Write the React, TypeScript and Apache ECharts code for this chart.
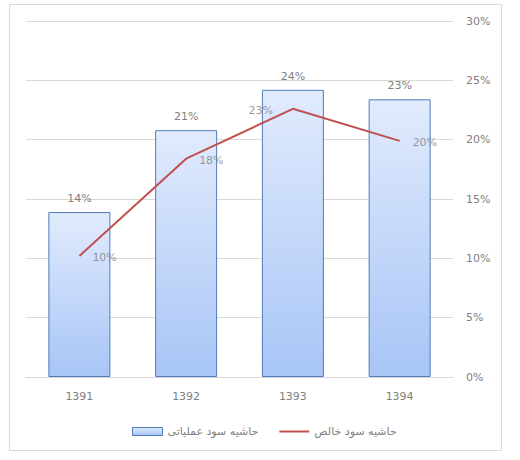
import { useEffect, useRef } from "react";
import * as echarts from "echarts";

const years = ["1391", "1392", "1393", "1394"];
const operatingMargin = [13.9, 20.8, 24.2, 23.4];
const netMargin = [10.2, 18.4, 22.6, 19.9];
const operatingLabels = ["14%", "21%", "24%", "23%"];
const netLabels = ["10%", "18%", "23%", "20%"];

const OPERATING_NAME = "حاشیه سود عملیاتی";
const NET_NAME = "حاشیه سود خالص";

// which side of the point each net-margin label sits on
const NET_LABEL_SIDE = ["right", "right", "left", "right"];

const FONT = "Tahoma, 'DejaVu Sans', sans-serif";
const TEXT_GRAY = "#808080";
const GRID_GRAY = "#d9d9d9";

export default function App() {
  const ref = useRef<HTMLDivElement>(null);

  useEffect(() => {
    document.body.style.margin = "0";
    if (!ref.current) return;
    const chart = echarts.init(ref.current, undefined, { renderer: "svg" });

    chart.setOption({
      animation: false,
      backgroundColor: "#ffffff",
      textStyle: { fontFamily: FONT },
      grid: { left: 26, right: 67, top: 21, bottom: 83, outerBoundsMode: "none" },
      graphic: [
        {
          type: "rect",
          shape: { x: 9.5, y: 4.5, width: 492, height: 446 },
          style: { fill: "none", stroke: GRID_GRAY, lineWidth: 1 },
          silent: true,
        },
      ],
      legend: {
        left: 127,
        top: 421,
        itemWidth: 30,
        itemHeight: 8,
        itemGap: 20,
        textStyle: { color: TEXT_GRAY, fontSize: 11, fontFamily: FONT },
        data: [
          {
            name: OPERATING_NAME,
            icon: "rect",
            itemStyle: { borderWidth: 1, borderColor: "#4f7cb8" },
          },
          { name: NET_NAME, itemStyle: { opacity: 0 } },
        ],
      },
      xAxis: {
        type: "category",
        data: years,
        axisLine: { lineStyle: { color: GRID_GRAY } },
        axisTick: { show: false },
        axisLabel: { color: TEXT_GRAY, fontSize: 11, margin: 14 },
      },
      yAxis: {
        type: "value",
        position: "right",
        min: 0,
        max: 30,
        interval: 5,
        axisLine: { show: false },
        axisTick: { show: false },
        axisLabel: {
          color: TEXT_GRAY,
          fontSize: 11,
          margin: 13,
          formatter: (v: number) => `${v}%`,
        },
        splitLine: { lineStyle: { color: GRID_GRAY } },
      },
      series: [
        {
          name: OPERATING_NAME,
          type: "bar",
          barWidth: 62,
          data: operatingMargin,
          itemStyle: {
            color: new echarts.graphic.LinearGradient(0, 0, 0, 1, [
              { offset: 0, color: "#e1ebfd" },
              { offset: 1, color: "#a8c5f6" },
            ]),
            borderColor: "#4f7cb8",
            borderWidth: 1,
          },
          label: {
            show: true,
            position: "top",
            distance: 8,
            color: TEXT_GRAY,
            fontSize: 11,
            formatter: (p: { dataIndex: number }) => operatingLabels[p.dataIndex],
          },
        },
        {
          name: NET_NAME,
          type: "line",
          data: netMargin,
          symbol: "none",
          lineStyle: { color: "#c0504d", width: 2 },
          itemStyle: { color: "#c0504d" },
          z: 3,
        },
        {
          name: "net-labels",
          type: "scatter",
          symbolSize: 0,
          silent: true,
          z: 4,
          data: netMargin.map((v, i) => ({
            value: v,
            label: {
              position: NET_LABEL_SIDE[i],
              distance: NET_LABEL_SIDE[i] === "left" ? 20 : 13,
              offset: [0, 2],
            },
          })),
          label: {
            show: true,
            color: TEXT_GRAY,
            fontSize: 11,
            formatter: (p: { dataIndex: number }) => netLabels[p.dataIndex],
          },
        },
      ],
    });

    return () => chart.dispose();
  }, []);

  return <div ref={ref} style={{ width: 520, height: 460 }} />;
}
